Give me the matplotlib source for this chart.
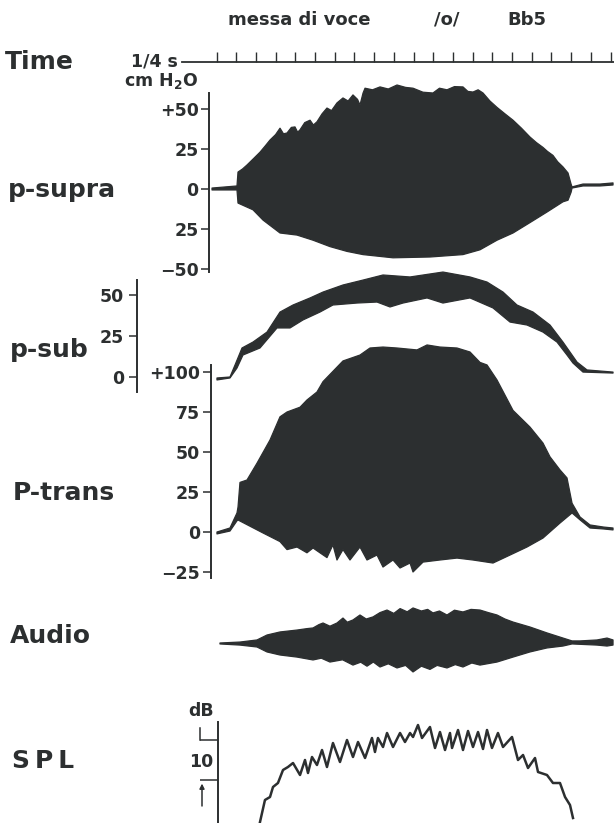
import matplotlib
matplotlib.use("Agg")
import matplotlib.pyplot as plt
import matplotlib.transforms as mtransforms
import numpy as np

plt.rcParams['font.family'] = ['DejaVu Sans']
plt.rcParams['font.weight'] = 'bold'

INK = '#2c2f30'

# ---------------------------------------------------------------- data
# time in seconds from the first 1/4-s timing mark
time_marks = [0.0, 0.25, 0.5, 0.75, 1.0, 1.25, 1.5, 1.75, 2.0, 2.25, 2.5,
              2.75, 3.0, 3.25, 3.5, 3.75, 4.0, 4.25, 4.5, 4.75, 5.0]

# supraglottal pressure envelope (cm H2O)
supra_up_t = [-0.057, 0.260, 0.273, 0.330, 0.387, 0.470, 0.552, 0.620, 0.679, 0.750,
              0.806, 0.850, 0.895, 0.950, 0.996, 1.030, 1.060, 1.120, 1.187, 1.230,
              1.275, 1.340, 1.402, 1.460, 1.529, 1.605, 1.670, 1.732, 1.790, 1.821,
              1.860, 1.885, 1.980, 2.075, 2.180, 2.291, 2.400, 2.494, 2.620, 2.747,
              2.830, 2.925, 3.020, 3.128, 3.190, 3.255, 3.320, 3.382, 3.470, 3.560,
              3.660, 3.763, 3.870, 3.978, 4.060, 4.143, 4.200, 4.270, 4.330, 4.397,
              4.461, 4.500, 4.512, 4.651, 4.867, 5.032]
supra_up_v = [0.6, 1.9, 10.6, 12.5, 15.0, 19.0, 23.0, 27.0, 30.6, 34.0,
              38.0, 34.5, 35.0, 38.5, 38.8, 35.5, 37.0, 41.5, 43.0, 40.0,
              42.0, 47.0, 50.6, 49.0, 53.8, 56.9, 55.0, 58.8, 56.0, 52.5,
              60.0, 63.0, 62.0, 63.8, 62.5, 65.0, 63.5, 63.0, 60.5, 60.0,
              63.0, 62.0, 64.0, 63.8, 61.0, 60.6, 62.0, 60.0, 55.0, 51.0,
              47.0, 43.0, 38.0, 32.5, 29.0, 26.0, 23.5, 21.0, 17.0, 13.8,
              10.0, 3.0, 1.3, 3.1, 3.1, 3.8]
supra_lo_t = [-0.057, 0.260, 0.273, 0.463, 0.590, 0.806, 1.022, 1.225, 1.440, 1.656,
              1.859, 2.240, 2.709, 3.128, 3.344, 3.560, 3.763, 3.978, 4.194, 4.397,
              4.461, 4.500, 4.512, 4.651, 4.867, 5.032]
supra_lo_v = [-0.6, -0.6, -8.8, -13.0, -19.4, -27.5, -28.8, -32.0, -36.0, -39.0,
              -41.0, -43.0, -42.5, -41.0, -38.0, -32.0, -27.5, -21.0, -14.4, -8.0,
              -7.0, -2.0, 0.6, 1.9, 1.9, 2.5]

# subglottal pressure envelope (cm H2O)
sub_up_t = [0.006, 0.171, 0.235, 0.324, 0.463, 0.641, 0.806, 0.971, 1.187, 1.352,
            1.605, 1.859, 2.113, 2.456, 2.874, 3.217, 3.433, 3.636, 3.813, 4.017,
            4.232, 4.397, 4.486, 4.575, 4.702, 5.032]
sub_up_v = [-0.6, 0.0, 7.3, 17.7, 21.3, 27.4, 39.6, 43.9, 48.2, 51.8,
            56.1, 59.1, 62.2, 61.0, 64.0, 61.0, 57.9, 51.8, 43.9, 39.6,
            31.7, 21.3, 15.2, 9.1, 4.3, 3.0]
sub_lo_t = [0.006, 0.171, 0.260, 0.336, 0.552, 0.768, 0.933, 1.098, 1.313, 1.478,
            1.783, 2.037, 2.202, 2.367, 2.672, 2.874, 3.217, 3.509, 3.725, 3.940,
            4.143, 4.321, 4.448, 4.524, 4.651, 5.032]
sub_lo_v = [-1.8, -0.6, 5.5, 13.4, 17.7, 29.9, 29.9, 34.8, 39.6, 43.9,
            45.1, 45.7, 42.7, 45.1, 48.2, 45.1, 48.2, 42.1, 33.5, 31.7,
            27.4, 21.3, 13.4, 8.5, 3.0, 2.4]

# transglottal pressure envelope (cm H2O)
trans_up_t = [0.006, 0.171, 0.260, 0.273, 0.298, 0.387, 0.514, 0.679, 0.806, 0.895,
              1.060, 1.148, 1.275, 1.352, 1.605, 1.821, 1.948, 2.113, 2.291, 2.544,
              2.672, 2.836, 3.052, 3.217, 3.344, 3.433, 3.560, 3.763, 3.978, 4.143,
              4.232, 4.359, 4.448, 4.512, 4.613, 4.740, 4.911, 5.032]
trans_up_v = [0.0, 2.5, 11.9, 15.6, 31.0, 32.5, 43.0, 57.5, 72.0, 75.0,
              78.0, 82.5, 87.5, 94.0, 106.9, 110.6, 115.0, 115.6, 115.0, 113.8,
              116.9, 115.6, 115.0, 112.5, 106.0, 104.4, 95.0, 76.0, 65.6, 55.6,
              47.0, 38.8, 33.8, 18.0, 9.4, 4.4, 3.1, 2.5]
trans_lo_t = [0.006, 0.171, 0.260, 0.273, 0.590, 0.806, 0.895, 1.022, 1.148, 1.225,
              1.313, 1.402, 1.478, 1.529, 1.605, 1.694, 1.821, 1.910, 2.037, 2.113,
              2.240, 2.329, 2.456, 2.494, 2.621, 2.836, 3.052, 3.255, 3.509, 3.725,
              3.940, 4.143, 4.359, 4.512, 4.613, 4.740, 4.911, 5.032]
trans_lo_v = [-1.2, 0.6, 7.0, 7.5, -0.6, -6.0, -11.0, -9.4, -13.0, -10.0,
              -13.0, -16.0, -8.0, -17.5, -11.0, -17.5, -9.4, -17.5, -14.4, -21.9,
              -17.5, -22.5, -19.4, -25.0, -18.8, -17.5, -16.3, -17.5, -19.4, -14.4,
              -9.4, -3.8, 5.6, 11.9, 7.6, 2.5, 1.9, 1.3]

# audio envelope (relative amplitude)
audio_up_t = [0.044, 0.298, 0.514, 0.641, 0.806, 1.022, 1.150, 1.225, 1.300, 1.352,
              1.440, 1.529, 1.605, 1.660, 1.732, 1.821, 1.900, 1.986, 2.075, 2.164,
              2.250, 2.330, 2.420, 2.494, 2.600, 2.680, 2.747, 2.830, 2.925, 3.020,
              3.128, 3.230, 3.344, 3.450, 3.560, 3.660, 3.763, 3.978, 4.194, 4.397,
              4.512, 4.613, 4.829, 4.956, 5.032]
audio_up_v = [0.0, 0.6, 1.9, 5.0, 6.9, 8.1, 9.0, 9.4, 11.5, 12.5,
              10.5, 12.5, 15.6, 13.0, 14.4, 17.5, 15.0, 16.3, 19.0, 20.6,
              18.5, 21.5, 19.5, 21.9, 20.0, 21.0, 18.8, 20.0, 17.5, 20.5,
              19.4, 21.0, 20.6, 19.0, 17.5, 15.0, 13.1, 10.0, 6.3, 3.1,
              1.3, 1.3, 1.9, 3.1, 1.9]
audio_lo_t = [0.044, 0.298, 0.514, 0.641, 0.806, 1.022, 1.225, 1.330, 1.440, 1.600,
              1.732, 1.830, 1.910, 1.990, 2.075, 2.180, 2.291, 2.400, 2.494, 2.600,
              2.709, 2.800, 2.925, 3.030, 3.128, 3.240, 3.344, 3.560, 3.763, 3.978,
              4.194, 4.397, 4.512, 4.829, 4.956, 5.032]
audio_lo_v = [-0.6, -1.3, -2.5, -5.6, -7.5, -8.8, -10.6, -9.5, -11.9, -10.5,
              -13.8, -12.0, -14.5, -11.9, -15.0, -13.0, -15.6, -14.0, -18.1, -14.5,
              -16.5, -14.0, -15.6, -13.5, -15.0, -12.5, -13.8, -11.9, -8.8, -5.6,
              -3.1, -1.9, -0.6, -1.3, -1.9, -1.3]

# sound pressure level (dB, relative)
spl_t = [0.552, 0.615, 0.679, 0.717, 0.780, 0.844, 0.907, 0.971, 1.060, 1.123,
         1.161, 1.212, 1.275, 1.339, 1.402, 1.478, 1.567, 1.656, 1.732, 1.796,
         1.885, 1.973, 2.011, 2.049, 2.113, 2.164, 2.240, 2.329, 2.392, 2.456,
         2.494, 2.557, 2.608, 2.709, 2.773, 2.836, 2.900, 2.963, 2.989, 3.065,
         3.128, 3.192, 3.255, 3.319, 3.382, 3.433, 3.496, 3.572, 3.636, 3.750,
         3.826, 3.890, 3.953, 4.042, 4.080, 4.194, 4.270, 4.359, 4.423, 4.486,
         4.524]
spl_db = [-10.5, -5.0, -4.25, -1.75, -0.75, 2.5, 3.25, 4.25, 1.25, 5.0,
          1.75, 5.75, 3.75, 7.5, 3.25, 9.25, 4.5, 10.0, 5.75, 9.5,
          5.5, 10.5, 7.0, 10.5, 8.25, 11.75, 8.25, 11.75, 9.5, 11.75,
          10.75, 13.75, 10.5, 13.25, 8.0, 12.0, 7.5, 11.75, 8.0, 12.5,
          7.5, 12.25, 8.25, 12.0, 7.75, 12.5, 8.0, 11.75, 8.25, 10.75,
          5.0, 6.25, 3.0, 5.5, 2.0, 1.25, -0.75, -0.75, -4.25, -6.25,
          -9.5]

# ---------------------------------------------------------------- layout
W, H = 614, 823
X0, X1 = 130, 614            # horizontal extent of the trace strips (px)
T_ORIGIN, PX_PER_S = 216.5, 78.8
T_LEFT = (X0 - T_ORIGIN) / PX_PER_S
T_RIGHT = (X1 - T_ORIGIN) / PX_PER_S

fig = plt.figure(figsize=(W / 100, H / 100), dpi=100)
fig.patch.set_facecolor('white')


def fx(x):
    return x / W


def fy(y):
    return 1 - y / H


def xfrac(x):
    return (x - X0) / (X1 - X0)


def strip(top, bottom, zero, px_per_unit):
    ax = fig.add_axes([fx(X0), fy(bottom), (X1 - X0) / W, (bottom - top) / H])
    ax.set_xlim(T_LEFT, T_RIGHT)
    ax.set_ylim((zero - bottom) / px_per_unit, (zero - top) / px_per_unit)
    ax.patch.set_visible(False)
    for s in ax.spines.values():
        s.set_visible(False)
    ax.set_xticks([])
    ax.set_yticks([])
    return ax


def scale_bar(ax, xpx, lo, hi, ticks, labels, length, pad, lw=1.4):
    sp = ax.spines['left']
    sp.set_visible(True)
    sp.set_position(('axes', xfrac(xpx)))
    sp.set_bounds(lo, hi)
    sp.set_color(INK)
    sp.set_linewidth(lw)
    ax.set_yticks(ticks, labels)
    ax.tick_params(axis='y', direction='out', length=length, width=1.1,
                   pad=pad, colors=INK, labelsize=12.5)
    for lab in ax.get_yticklabels():
        lab.set_fontweight('bold')


def envelope(ax, t_up, v_up, t_lo, v_lo):
    xs = np.r_[np.asarray(t_up), np.asarray(t_lo)[::-1]]
    ys = np.r_[np.asarray(v_up), np.asarray(v_lo)[::-1]]
    ax.fill(xs, ys, facecolor=INK, edgecolor=INK, lw=0.9, joinstyle='round')


# ---------------------------------------------------------------- time marker
ax_t = strip(47, 67, 62, 5.0)
ax_t.axhline(0, xmin=xfrac(182), xmax=1, color=INK, lw=1.3)
ax_t.vlines(time_marks, 0, 2, color=INK, lw=1.0)

# ---------------------------------------------------------------- p-supra
ax_sup = strip(80, 285, 189, 1.6)
envelope(ax_sup, supra_up_t, supra_up_v, supra_lo_t, supra_lo_v)
scale_bar(ax_sup, 209, -52, 60, [50, 25, 0, -25, -50],
          ['+50', '25', '0', '25', '\u221250'], length=5.5, pad=2)

# ---------------------------------------------------------------- p-sub
ax_sub = strip(262, 395, 377, 1.64)
envelope(ax_sub, sub_up_t, sub_up_v, sub_lo_t, sub_lo_v)
scale_bar(ax_sub, 137, -9, 59, [50, 25, 0], ['50', '25', '0'],
          length=6, pad=3.5)

# ---------------------------------------------------------------- p-trans
ax_tr = strip(335, 590, 532, 1.6)
envelope(ax_tr, trans_up_t, trans_up_v, trans_lo_t, trans_lo_v)
scale_bar(ax_tr, 211, -28.5, 104.5, [100, 75, 50, 25, 0, -25],
          ['+100', '75', '50', '25', '0', '\u221225'], length=6, pad=2)

# ---------------------------------------------------------------- audio
ax_au = strip(590, 690, 643, 1.6)
envelope(ax_au, audio_up_t, audio_up_v, audio_lo_t, audio_lo_v)

# ---------------------------------------------------------------- SPL
ax_spl = strip(700, 823, 780, 4.0)
ax_spl.plot(spl_t, spl_db, color=INK, lw=1.8, solid_joinstyle='round')
scale_bar(ax_spl, 218, -10.75, 14.5, [0, 10], ['', ''], length=13, pad=0)
blend = mtransforms.blended_transform_factory(ax_spl.transAxes, ax_spl.transData)
ax_spl.plot([xfrac(200), xfrac(200)], [10, 13], color=INK, lw=1.1, transform=blend)
ax_spl.annotate('', xy=(xfrac(202), -0.9), xycoords=blend,
                xytext=(xfrac(202), -6.5), textcoords=blend,
                arrowprops=dict(arrowstyle='-|>', color=INK, lw=1.1,
                                mutation_scale=7, shrinkA=0, shrinkB=0))
ax_spl.text(xfrac(213), 4.5, '10', transform=blend, ha='right', va='center',
            fontsize=12.5, fontweight='bold', color=INK)

# ---------------------------------------------------------------- text
big = dict(fontsize=18, fontweight='bold', color=INK, va='baseline', ha='left')
fig.text(fx(5), fy(69), 'Time', **big)
fig.text(fx(8), fy(197), 'p-supra', **big)
fig.text(fx(10), fy(357), 'p-sub', **big)
fig.text(fx(13), fy(500), 'P-trans', **big)
fig.text(fx(10), fy(643), 'Audio', **big)
fig.text(fx(12), fy(768), 'S\u2009P\u2009L', **big)

small = dict(fontsize=12.5, fontweight='bold', color=INK, va='baseline')
fig.text(fx(178), fy(66), '1/4 s', ha='right', **small)
fig.text(fx(198), fy(86), r'cm H$_{\mathbf{2}}$O', ha='right', **small)
fig.text(fx(201), fy(716), 'dB', ha='center', **small)

top = dict(fontsize=13, fontweight='bold', color=INK, va='baseline', ha='left')
fig.text(fx(228), fy(25), 'messa di voce', **top)
fig.text(fx(434), fy(25), '/o/', **top)
fig.text(fx(507), fy(25), 'Bb5', **top)

fig.savefig('out.png', dpi=100, facecolor='white')
